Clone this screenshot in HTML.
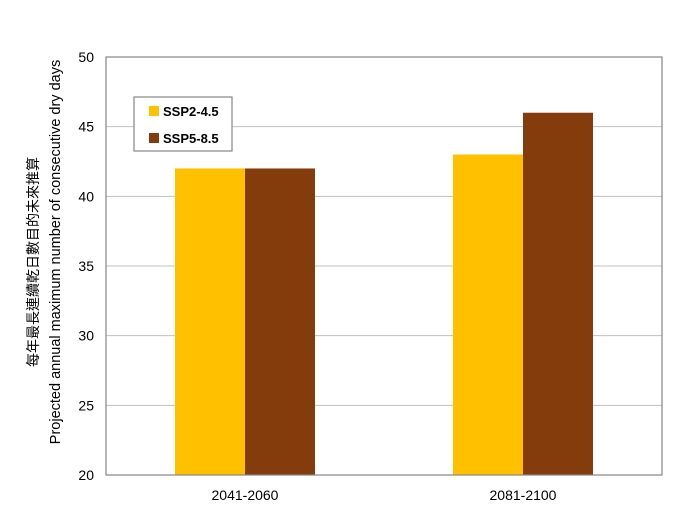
<!DOCTYPE html>
<html><head><meta charset="utf-8">
<style>
body{margin:0;background:#fff;}
svg text{font-family:"Liberation Sans","Noto Sans CJK TC",sans-serif;}
</style></head>
<body>
<svg id="chart" width="700" height="507" viewBox="0 0 700 507" xmlns="http://www.w3.org/2000/svg">
<g id="grid"></g>
<g id="bars"></g>
<rect x="106" y="57" width="556" height="418" fill="none" stroke="#868686" stroke-width="1.2"/>
<g id="yticks"></g>
<g id="xticks"></g>
<text transform="translate(38,262) rotate(-90)" text-anchor="middle" font-size="14" fill="#000">每年最長連續乾日數目的未來推算</text>
<text transform="translate(60,252) rotate(-90)" text-anchor="middle" font-size="14.5" fill="#000">Projected annual maximum number of consecutive dry days</text>
<g>
<rect x="134" y="97" width="98" height="54" fill="#fff" stroke="#868686" stroke-width="1.2"/>
<rect x="149" y="106" width="10" height="10" fill="#FFC000"/>
<text x="163" y="116" font-size="13" font-weight="bold">SSP2-4.5</text>
<rect x="149" y="133" width="10" height="10" fill="#843C0C"/>
<text x="163" y="143" font-size="13" font-weight="bold">SSP5-8.5</text>
</g>
</svg>
<script>
const categories = ["2041-2060", "2081-2100"];
const ssp245 = [42, 43];
const ssp585 = [42, 46];
const yTicks = [20, 25, 30, 35, 40, 45, 50];
const colors = ["#FFC000", "#843C0C"];
const ns = "http://www.w3.org/2000/svg";
const L = 106, R = 662, T = 57, B = 475, yMin = 20, yMax = 50;
function y(v){ return B - (v - yMin) / (yMax - yMin) * (B - T); }
const catW = (R - L) / categories.length;
function xc(i){ return L + catW * (i + 0.5); }
const barW = 70;
const grid = document.getElementById('grid');
const yt = document.getElementById('yticks');
yTicks.forEach(v => {
  const ln = document.createElementNS(ns, 'line');
  ln.setAttribute('x1', L); ln.setAttribute('x2', R);
  ln.setAttribute('y1', y(v)); ln.setAttribute('y2', y(v));
  ln.setAttribute('stroke', '#c0c0c0'); ln.setAttribute('stroke-width', '1');
  
  
  grid.appendChild(ln);
  const t = document.createElementNS(ns, 'text');
  t.setAttribute('x', 94); t.setAttribute('y', y(v) + 5);
  t.setAttribute('text-anchor', 'end'); t.setAttribute('font-size', '14');
  t.textContent = v;
  
  
  yt.appendChild(t);
});
const bars = document.getElementById('bars');
const xt = document.getElementById('xticks');
[ssp245, ssp585].forEach((series, s) => {
  series.forEach((v, i) => {
    const r = document.createElementNS(ns, 'rect');
    const x0 = xc(i) - barW + s * barW;
    r.setAttribute('x', x0); r.setAttribute('width', barW);
    r.setAttribute('y', y(v)); r.setAttribute('height', B - y(v));
    r.setAttribute('fill', colors[s]);
    
    
    bars.appendChild(r);
  });
});
categories.forEach((c, i) => {
  const t = document.createElementNS(ns, 'text');
  t.setAttribute('x', xc(i)); t.setAttribute('y', 500);
  t.setAttribute('text-anchor', 'middle'); t.setAttribute('font-size', '14');
  t.textContent = c;
  
  
  xt.appendChild(t);
});
</script>
</body></html>
